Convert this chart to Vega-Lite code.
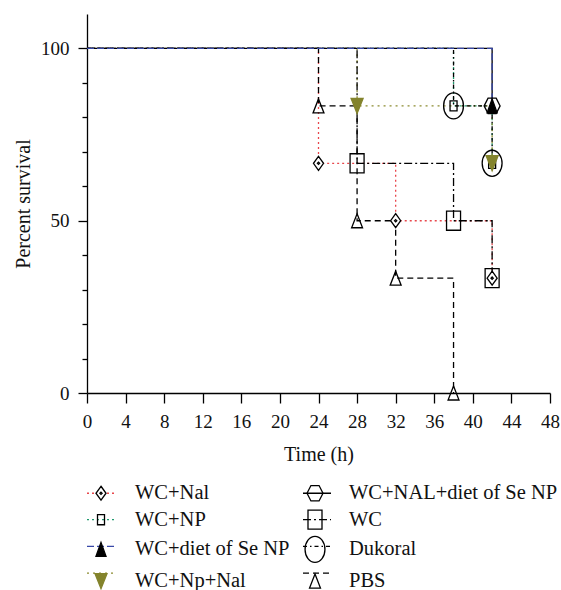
{
  "$schema": "https://vega.github.io/schema/vega-lite/v6.json",
  "width": 463,
  "height": 379,
  "autosize": {"type": "none"},
  "padding": {"left": 87, "top": 14, "right": 11, "bottom": 197},
  "background": "white",
  "config": {
    "view": {"stroke": null},
    "font": "Liberation Serif",
    "axis": {
      "grid": false,
      "domainColor": "#000000",
      "domainWidth": 1.3,
      "tickColor": "#000000",
      "tickWidth": 1.3,
      "labelColor": "#111111",
      "labelFont": "Liberation Serif",
      "labelFontSize": 19,
      "labelPadding": 9,
      "titleFont": "Liberation Serif",
      "titleFontSize": 20,
      "titleFontWeight": "normal",
      "titleColor": "#111111"
    }
  },
  "data": {
    "values": [
      {"series": "WC+Nal", "time": 0, "surv": 100},
      {"series": "WC+Nal", "time": 24, "surv": 66.67},
      {"series": "WC+Nal", "time": 32, "surv": 50},
      {"series": "WC+Nal", "time": 42, "surv": 33.33},
      {"series": "WC+NP", "time": 0, "surv": 100},
      {"series": "WC+NP", "time": 38, "surv": 83.33},
      {"series": "WC+NP", "time": 42, "surv": 66.67},
      {"series": "WC+Np+Nal", "time": 0, "surv": 100},
      {"series": "WC+Np+Nal", "time": 28, "surv": 83.33},
      {"series": "WC+Np+Nal", "time": 42, "surv": 66.67},
      {"series": "WC+NAL+diet of Se NP", "time": 0, "surv": 100},
      {"series": "WC+NAL+diet of Se NP", "time": 42, "surv": 83.33},
      {"series": "WC", "time": 0, "surv": 100},
      {"series": "WC", "time": 28, "surv": 66.67},
      {"series": "WC", "time": 38, "surv": 50},
      {"series": "WC", "time": 42, "surv": 33.33},
      {"series": "Dukoral", "time": 0, "surv": 100},
      {"series": "Dukoral", "time": 38, "surv": 83.33},
      {"series": "Dukoral", "time": 42, "surv": 66.67},
      {"series": "PBS", "time": 0, "surv": 100},
      {"series": "PBS", "time": 24, "surv": 83.33},
      {"series": "PBS", "time": 28, "surv": 50},
      {"series": "PBS", "time": 32, "surv": 33.33},
      {"series": "PBS", "time": 38, "surv": 0},
      {"series": "WC+diet of Se NP", "time": 0, "surv": 100},
      {"series": "WC+diet of Se NP", "time": 42, "surv": 83.33}
    ]
  },
  "encoding": {
    "x": {
      "field": "time",
      "type": "quantitative",
      "scale": {"domain": [0, 48], "nice": false, "zero": false},
      "axis": {
        "values": [0, 4, 8, 12, 16, 20, 24, 28, 32, 36, 40, 44, 48],
        "title": "Time (h)",
        "labelFont": "Liberation Serif",
        "titleFont": "Liberation Serif",
        "tickSize": 10,
        "titlePadding": 13,
        "labelFlush": false
      }
    },
    "y": {
      "field": "surv",
      "type": "quantitative",
      "scale": {"domain": [0, 110], "nice": false},
      "axis": {
        "values": [0, 10, 20, 30, 40, 50, 60, 70, 80, 90, 100],
        "labelExpr": "datum.value % 50 === 0 ? datum.label : ''",
        "tickSize": {"condition": {"test": "datum.value % 50 === 0", "value": 9}, "value": 5},
        "title": "Percent survival",
        "labelFont": "Liberation Serif",
        "titleFont": "Liberation Serif",
        "titlePadding": 7,
        "labelFlush": false
      }
    }
  },
  "layer": [
    {
      "mark": {"type": "line", "interpolate": "step-after", "strokeWidth": 1.3},
      "encoding": {
        "order": {"field": "time"},
        "color": {
          "field": "series",
          "type": "nominal",
          "scale": {
            "domain": ["WC+NP", "WC+diet of Se NP", "WC+Np+Nal", "WC+NAL+diet of Se NP", "WC", "Dukoral", "PBS", "WC+Nal"],
            "range": ["#1f9a6e", "#3848a8", "#8c8c30", "#000000", "#000000", "#000000", "#000000", "#e8474c"]
          },
          "legend": {
            "orient": "none", "legendX": -1, "legendY": 464, "columns": 2,
            "values": ["WC+Nal", "WC+NP", "WC+diet of Se NP", "WC+Np+Nal", "WC+NAL+diet of Se NP", "WC", "Dukoral", "PBS"],
            "title": null, "symbolType": "stroke", "symbolSize": 784, "symbolStrokeWidth": 1.3,
            "labelOpacity": 0, "labelFont": "Liberation Serif", "labelFontSize": 20.5, "labelLimit": 300,
            "labelOffset": 19, "columnPadding": 10, "rowPadding": 0.7, "padding": 0
          }
        },
        "strokeDash": {
          "field": "series",
          "type": "nominal",
          "scale": {
            "domain": ["WC+NP", "WC+diet of Se NP", "WC+Np+Nal", "WC+NAL+diet of Se NP", "WC", "Dukoral", "PBS", "WC+Nal"],
            "range": [[2, 3], [7, 3], [2, 4], [1, 0], [8, 3, 2, 3], [4, 3, 1.5, 3], [6, 4], [2, 3]]
          },
          "legend": {
            "orient": "none", "legendX": -1, "legendY": 464, "columns": 2,
            "values": ["WC+Nal", "WC+NP", "WC+diet of Se NP", "WC+Np+Nal", "WC+NAL+diet of Se NP", "WC", "Dukoral", "PBS"],
            "title": null, "symbolType": "stroke", "symbolSize": 784, "symbolStrokeWidth": 1.3,
            "labelOpacity": 0, "labelFont": "Liberation Serif", "labelFontSize": 20.5, "labelLimit": 300,
            "labelOffset": 19, "columnPadding": 10, "rowPadding": 0.7, "padding": 0
          }
        }
      }
    },
    {
      "transform": [{"filter": "datum.time > 0"}],
      "mark": {"type": "point", "size": 784, "opacity": 1, "strokeWidth": 1.3},
      "encoding": {
        "shape": {
          "field": "series",
          "type": "nominal",
          "scale": {
            "domain": ["WC+Nal", "WC+NP", "WC+diet of Se NP", "WC+Np+Nal", "WC+NAL+diet of Se NP", "WC", "Dukoral", "PBS"],
            "range": [
              "M0,-0.5L0.36,0L0,0.5L-0.36,0ZM0,-0.08L0.08,0L0,0.08L-0.08,0Z",
              "M-0.25,-0.36H0.25V0.36H-0.25Z",
              "M0,-0.5L0.36,0.5H-0.36Z",
              "M-0.43,-0.54H0.43L0,0.54Z",
              "M-0.57,0L-0.29,-0.55H0.29L0.57,0L0.29,0.55H-0.29Z",
              "M-0.5,-0.68H0.5V0.68H-0.5Z",
              "M0.71,0C0.71,0.514,0.392,0.93,0,0.93C-0.392,0.93,-0.71,0.514,-0.71,0C-0.71,-0.514,-0.392,-0.93,0,-0.93C0.392,-0.93,0.71,-0.514,0.71,0Z",
              "M0,-0.5L0.39,0.5H-0.39Z"
            ]
          },
          "legend": {
            "orient": "none", "legendX": -1, "legendY": 464, "columns": 2,
            "values": ["WC+Nal", "WC+NP", "WC+diet of Se NP", "WC+Np+Nal", "WC+NAL+diet of Se NP", "WC", "Dukoral", "PBS"],
            "title": null, "symbolSize": 784, "symbolStrokeWidth": 1.3,
            "labelColor": "#111111", "labelFont": "Liberation Serif", "labelFontSize": 20.5, "labelLimit": 300,
            "labelOffset": 19, "columnPadding": 10, "rowPadding": 0.7, "padding": 0
          }
        },
        "fill": {
          "field": "series",
          "type": "nominal",
          "scale": {
            "domain": ["WC+Nal", "WC+NP", "WC+diet of Se NP", "WC+Np+Nal", "WC+NAL+diet of Se NP", "WC", "Dukoral", "PBS"],
            "range": ["#ffffff", "transparent", "#000000", "#83832c", "transparent", "transparent", "transparent", "transparent"]
          },
          "legend": {
            "orient": "none", "legendX": -1, "legendY": 464, "columns": 2,
            "values": ["WC+Nal", "WC+NP", "WC+diet of Se NP", "WC+Np+Nal", "WC+NAL+diet of Se NP", "WC", "Dukoral", "PBS"],
            "title": null, "symbolSize": 784, "symbolStrokeWidth": 1.3,
            "labelColor": "#111111", "labelFont": "Liberation Serif", "labelFontSize": 20.5, "labelLimit": 300,
            "labelOffset": 19, "columnPadding": 10, "rowPadding": 0.7, "padding": 0
          }
        },
        "stroke": {
          "field": "series",
          "type": "nominal",
          "scale": {
            "domain": ["WC+Nal", "WC+NP", "WC+diet of Se NP", "WC+Np+Nal", "WC+NAL+diet of Se NP", "WC", "Dukoral", "PBS"],
            "range": ["#000000", "#000000", "#000000", "#83832c", "#000000", "#000000", "#000000", "#000000"]
          },
          "legend": {
            "orient": "none", "legendX": -1, "legendY": 464, "columns": 2,
            "values": ["WC+Nal", "WC+NP", "WC+diet of Se NP", "WC+Np+Nal", "WC+NAL+diet of Se NP", "WC", "Dukoral", "PBS"],
            "title": null, "symbolSize": 784, "symbolStrokeWidth": 1.3,
            "labelColor": "#111111", "labelFont": "Liberation Serif", "labelFontSize": 20.5, "labelLimit": 300,
            "labelOffset": 19, "columnPadding": 10, "rowPadding": 0.7, "padding": 0
          }
        }
      }
    }
  ]
}
